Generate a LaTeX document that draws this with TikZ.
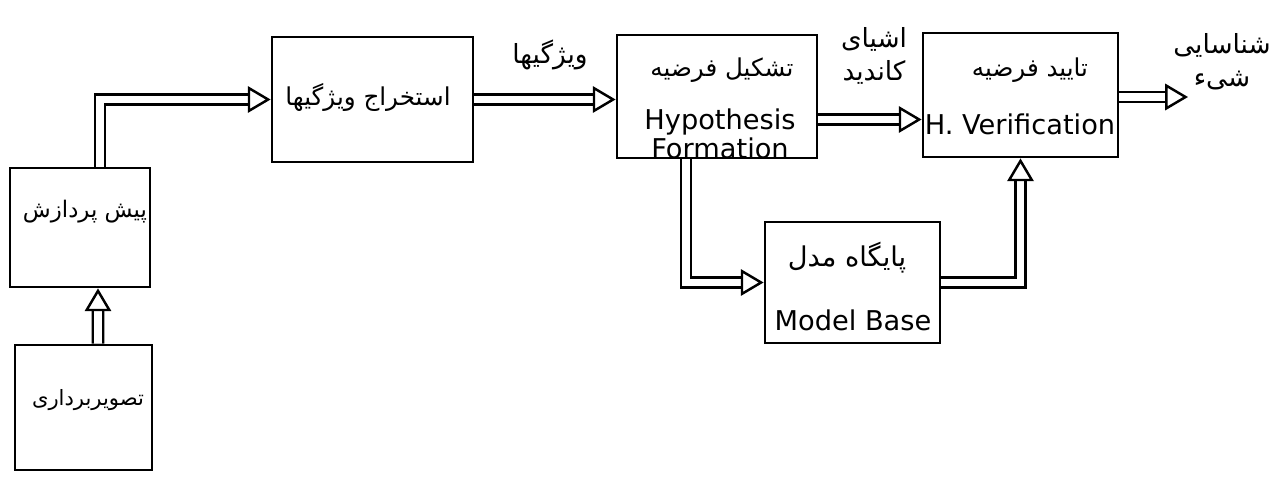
\documentclass[tikz,border=0pt]{standalone}
\usepackage{fontspec}
\setmainfont{DejaVu Sans}
\newfontfamily\fa[Script=Arabic]{DejaVu Sans}
\TeXXeTstate=1
\usetikzlibrary{arrows.meta,calc}
\newcommand{\fatext}[1]{{\fa\beginR #1\endR}}

\begin{document}
\begin{tikzpicture}[x=0.02cm,y=-0.02cm,
  block/.style={draw, line width=1.6pt, inner sep=0pt},
  flow/.style={double, double distance=4.5pt, line width=1.4pt,
    -{Triangle[open, length=13pt, width=15pt, line width=1.4pt]}},
  fatxt/.style={font=\fa\fontsize{#1}{20}\selectfont},
  fatxt/.default=14,
  entxt/.style={font=\fontsize{15.5}{18}\selectfont},
  lbl/.style={font=\fa\fontsize{15}{19}\selectfont, align=center}]
\useasboundingbox (0,0) rectangle (1281,477);

% processing blocks
\node[block, minimum width=2.74cm, minimum height=2.5cm]  (acq) at (83.5,407.5) {};
\node[block, minimum width=2.8cm,  minimum height=2.38cm] (pre) at (80,227.5) {};
\node[block, minimum width=4.02cm, minimum height=2.5cm]  (fe)  at (372.5,99.5) {};
\node[block, minimum width=4.0cm,  minimum height=2.46cm] (hyp) at (717,96.5) {};
\node[block, minimum width=3.9cm,  minimum height=2.48cm] (ver) at (1020.5,95) {};
\node[block, minimum width=3.5cm,  minimum height=2.42cm] (mb)  at (852.5,282.5) {};

% block texts
\node[fatxt=12]  (tacq) at (88,400) {\fatext{تصویربرداری}};
\node[fatxt=13]  (tpre) at (85,212) {\fatext{پیش پردازش}};
\node[fatxt=14]  (tfe)  at (368,97) {\fatext{استخراج ویژگیها}};
\node[fatxt=14]  (thyp) at (722,70) {\fatext{تشکیل فرضیه}};
\node[entxt] (ehyp1) at (720,122) {Hypothesis};
\node[entxt] (ehyp2) at (720,148) {Formation};
\node[fatxt=14]  (tver) at (1030,70) {\fatext{تایید فرضیه}};
\node[entxt] (ever) at (1020,124) {H. Verification};
\node[fatxt=15.5](tmb)  at (847,258) {\fatext{پایگاه مدل}};
\node[entxt] (emb)  at (853,320) {Model Base};

% connectors
\coordinate (out) at (1188,97);
\draw[flow] ($(acq.north)+(14.5,0)$) -- ($(pre.south)+(18,0)$);
\draw[flow] ($(pre.north)+(20,0)$) |- (fe.west);
\draw[flow] (fe.east) -- (fe.east -| hyp.west);
\coordinate (h1) at ($(hyp.east)+(0,23)$);
\draw[flow] (h1) -- (h1 -| ver.west);
\draw[flow] (ver.east |- out) -- (out);
\draw[flow] ($(hyp.south)+(-31,0)$) |- (mb.west);
\draw[flow] (mb.east) -| (ver.south);

% connector labels
\node[lbl] (lfe)  at (550,55) {\fatext{ویژگیها}};
\node[lbl] (lhyp) at (874,56) {\fatext{اشیای}\\\fatext{کاندید}};
\node[lbl] (lout) at (1222,62) {\fatext{شناسایی}\\\fatext{شیء}};
\end{tikzpicture}
\end{document}
